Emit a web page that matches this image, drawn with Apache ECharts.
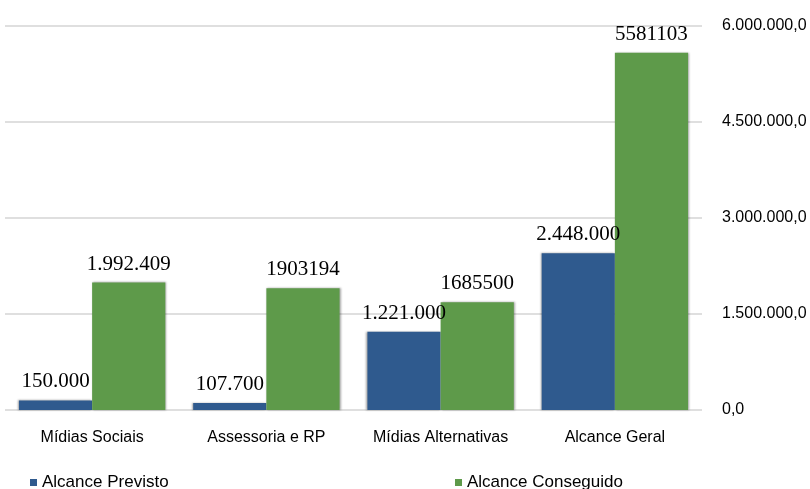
<!DOCTYPE html>
<html>
<head>
<meta charset="utf-8">
<script src="https://cdn.jsdelivr.net/npm/echarts@6/dist/echarts.min.js"></script>
<style>html,body{margin:0;padding:0;background:#fff}#c{width:810px;height:489px}</style>
</head>
<body>
<div id="c"></div>
<script>
const categories = ['Mídias Sociais', 'Assessoria e RP', 'Mídias Alternativas', 'Alcance Geral'];
const seriesNames = ['Alcance Previsto', 'Alcance Conseguido'];
const previsto = [150000, 107700, 1221000, 2448000];
const conseguido = [1992409, 1903194, 1685500, 5581103];
const previstoLabels = ['150.000', '107.700', '1.221.000', '2.448.000'];
const conseguidoLabels = ['1.992.409', '1903194', '1685500', '5581103'];
const yMin = 0, yMax = 6000000, yInterval = 1500000;

function fmt(v) {
  const s = String(Math.round(v)).replace(/\B(?=(\d{3})+(?!\d))/g, '.');
  return s + ',0';
}

const chart = echarts.init(document.getElementById('c'), null, {renderer: 'canvas'});
const labelStyle = {
  show: true, position: 'top', distance: 8,
  fontFamily: '"Liberation Serif", "Times New Roman", serif',
  fontSize: 21, color: '#000'
};
const legendText = {fontFamily: '"Liberation Sans", Arial, sans-serif', fontSize: 17, color: '#000'};
chart.setOption({
  animation: false,
  backgroundColor: '#fff',
  grid: {left: 5, right: 108, top: 26, bottom: 79},
  legend: [
    {data: [seriesNames[0]], left: 25, top: 469, itemWidth: 7, itemHeight: 7, itemGap: 4,
     icon: 'rect', textStyle: legendText},
    {data: [seriesNames[1]], left: 450, top: 469, itemWidth: 7, itemHeight: 7, itemGap: 4,
     icon: 'rect', textStyle: legendText}
  ],
  xAxis: {
    type: 'category', data: categories,
    axisLine: {show: false}, axisTick: {show: false},
    axisLabel: {interval: 0, margin: 20, fontFamily: '"Liberation Sans", Arial, sans-serif', fontSize: 16, color: '#000'}
  },
  yAxis: {
    type: 'value', position: 'right', min: yMin, max: yMax, interval: yInterval,
    axisLine: {show: false}, axisTick: {show: false},
    splitLine: {lineStyle: {color: '#d4d4d4', width: 1.5}},
    axisLabel: {margin: 20, formatter: fmt, fontFamily: '"Liberation Sans", Arial, sans-serif', fontSize: 16, color: '#000'}
  },
  series: [
    {
      name: seriesNames[0], type: 'bar', data: previsto,
      barGap: '0%', barCategoryGap: '16%',
      itemStyle: {color: '#2f5a8e', shadowColor: 'rgba(0,0,0,0.35)', shadowBlur: 2, shadowOffsetX: -1},
      label: Object.assign({}, labelStyle, {formatter: p => previstoLabels[p.dataIndex]})
    },
    {
      name: seriesNames[1], type: 'bar', data: conseguido,
      barGap: '0%', barCategoryGap: '16%',
      itemStyle: {color: '#5e9a4a', shadowColor: 'rgba(0,0,0,0.35)', shadowBlur: 2, shadowOffsetX: 1},
      label: Object.assign({}, labelStyle, {formatter: p => conseguidoLabels[p.dataIndex]})
    }
  ]
});
</script>
</body>
</html>
